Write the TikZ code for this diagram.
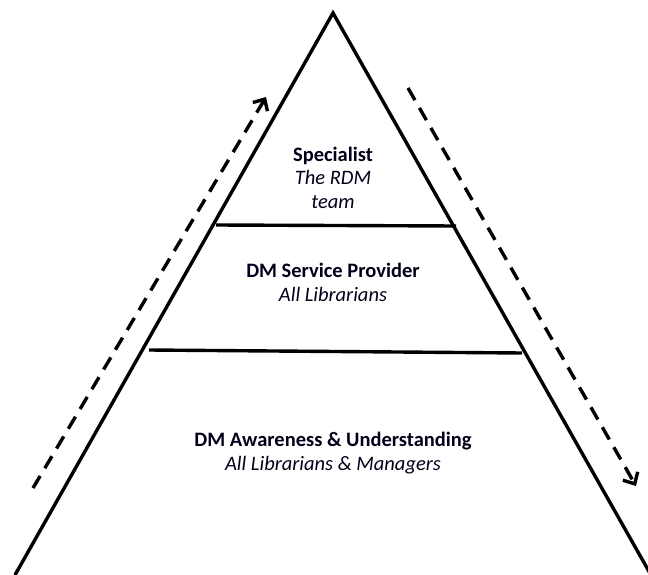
\documentclass[tikz,border=0pt]{standalone}
\usepackage{fontspec}
\setmainfont{Carlito}
\usetikzlibrary{arrows.meta}
\tikzset{
  side/.style={line width=3.4pt, line join=miter},
  tier/.style={line width=3.4pt},
  flow/.style={line width=3.4pt, dash pattern=on 14pt off 9pt, -{Straight Barb[length=9pt,width=17pt,line width=3.4pt]}},
  lbl/.style={anchor=base, inner sep=0pt, text=black!90!blue, font=\fontsize{20.5}{24}\selectfont},
}
\begin{document}
\begin{tikzpicture}[x=1pt,y=1pt]
\useasboundingbox (0,0) rectangle (648,-575);
\clip (0,0) rectangle (648,-575);
\coordinate (apex) at (333,-13);
\coordinate (bl) at (15,-575);
\coordinate (br) at (651,-575);
\draw[side] (bl) -- (apex) -- (br);
\coordinate (t1a) at (216,-225);
\coordinate (t1b) at (456,-226);
\coordinate (t2a) at (149,-350);
\coordinate (t2b) at (522,-353);
\draw[tier] (t1a) -- (t1b);
\draw[tier] (t2a) -- (t2b);
\coordinate (ua) at (33,-488);
\coordinate (ub) at (266,-97);
\coordinate (da) at (408,-88);
\coordinate (db) at (636,-486);
\draw[flow] (ua) -- (ub);
\draw[flow] (da) -- (db);
\node[lbl] (s1) at (333,-161) {\bfseries Specialist};
\node[lbl] (s2) at (333,-185) {\itshape The RDM};
\node[lbl] (s3) at (333,-208) {\itshape team};
\node[lbl] (p1) at (333,-277) {\bfseries DM Service Provider};
\node[lbl] (p2) at (333,-301) {\itshape All Librarians};
\node[lbl] (a1) at (333,-446) {\bfseries DM Awareness \& Understanding};
\node[lbl] (a2) at (333,-470) {\itshape All Librarians \& Managers};
\end{tikzpicture}
\end{document}
